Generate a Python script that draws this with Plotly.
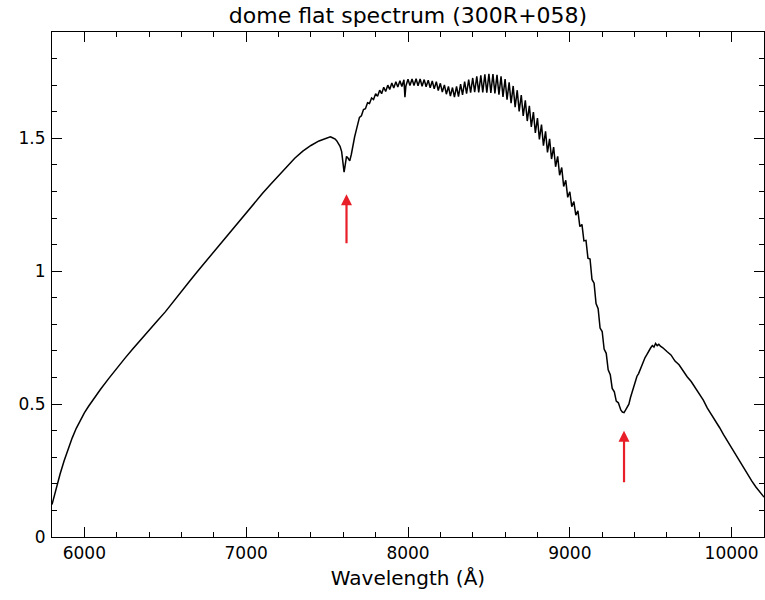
import plotly.graph_objects as go

# ---- data ----
# smooth blue part of the spectrum
wave_blue = [5800, 5825, 5850, 5875, 5900, 5925, 5950, 5975, 6000, 6025, 6050, 6075,
             6100, 6150, 6200, 6250, 6300, 6350, 6400, 6450, 6500, 6550, 6600, 6650,
             6700, 6750, 6800, 6850, 6900, 6950, 7000, 7050, 7100, 7150, 7200, 7250,
             7300, 7350, 7400, 7450]
flux_blue = [0.122, 0.182, 0.237, 0.287, 0.332, 0.373, 0.409, 0.440, 0.467, 0.491,
             0.513, 0.535, 0.556, 0.596, 0.635, 0.672, 0.708, 0.744, 0.779, 0.813,
             0.847, 0.884, 0.923, 0.962, 1.000, 1.037, 1.073, 1.108, 1.144, 1.181,
             1.218, 1.256, 1.292, 1.326, 1.360, 1.393, 1.425, 1.452, 1.473, 1.490]

# atmospheric A-band region
wave_aband = [7500, 7510, 7520, 7530, 7540, 7550, 7560, 7570, 7580, 7590, 7600, 7605,
              7610, 7620, 7630, 7640, 7650, 7660, 7670, 7680, 7690]
flux_aband = [1.502, 1.504, 1.506, 1.503, 1.500, 1.497, 1.490, 1.482, 1.470, 1.450,
              1.400, 1.373, 1.392, 1.432, 1.425, 1.415, 1.440, 1.480, 1.505, 1.530,
              1.553]

# fringing region (peaks and troughs)
wave_fringe = [7700, 7712, 7725, 7737, 7750, 7762, 7775, 7787, 7800, 7812, 7825, 7837,
               7850, 7862, 7875, 7887, 7900, 7912, 7925, 7937, 7950, 7962, 7975, 7981,
               7987, 8000, 8012, 8025, 8037, 8050, 8062, 8075, 8087, 8100, 8112, 8125,
               8137, 8150, 8162, 8175, 8187, 8200, 8212, 8225, 8237, 8250, 8262, 8275,
               8287, 8300, 8312, 8325, 8337, 8350, 8362, 8375, 8387, 8400, 8412, 8425,
               8437, 8450, 8462, 8475, 8487, 8500, 8512, 8525, 8537, 8550, 8562, 8575,
               8587, 8600, 8612, 8625, 8637, 8650, 8662, 8675, 8687, 8700, 8712, 8725,
               8737, 8750, 8762, 8775, 8787, 8800, 8812, 8825, 8837, 8850, 8862, 8875,
               8887, 8900, 8912, 8925, 8937, 8950, 8962, 8975, 8987, 9000, 9012, 9025,
               9037, 9050, 9062, 9075, 9087, 9100, 9112, 9125, 9137, 9150, 9162, 9175,
               9187, 9200, 9212, 9225, 9237, 9250, 9262, 9275, 9287, 9300]
flux_fringe = [1.579, 1.585, 1.608, 1.611, 1.634, 1.631, 1.652, 1.646, 1.668, 1.658,
               1.681, 1.668, 1.692, 1.676, 1.700, 1.684, 1.708, 1.689, 1.713, 1.693,
               1.717, 1.695, 1.720, 1.655, 1.697, 1.722, 1.699, 1.723, 1.699, 1.724,
               1.698, 1.723, 1.696, 1.721, 1.694, 1.719, 1.690, 1.716, 1.686, 1.713,
               1.680, 1.707, 1.674, 1.701, 1.666, 1.695, 1.659, 1.691, 1.655, 1.695,
               1.657, 1.704, 1.663, 1.713, 1.668, 1.721, 1.672, 1.727, 1.674, 1.733,
               1.673, 1.737, 1.673, 1.741, 1.672, 1.743, 1.671, 1.742, 1.669, 1.739,
               1.664, 1.733, 1.656, 1.723, 1.645, 1.711, 1.632, 1.697, 1.617, 1.681,
               1.601, 1.663, 1.584, 1.643, 1.565, 1.622, 1.543, 1.599, 1.520, 1.576,
               1.496, 1.552, 1.472, 1.526, 1.447, 1.498, 1.422, 1.467, 1.393, 1.432,
               1.361, 1.390, 1.319, 1.342, 1.278, 1.299, 1.243, 1.262, 1.211, 1.227,
               1.168, 1.176, 1.114, 1.116, 1.049, 1.046, 0.969, 0.955, 0.878, 0.859,
               0.786, 0.773, 0.707, 0.691, 0.629, 0.611, 0.559, 0.546, 0.511, 0.505]

# red part beyond the water band
wave_red = [9315, 9325, 9335, 9345, 9355, 9365, 9375, 9390, 9400, 9415, 9425, 9440,
            9450, 9465, 9475, 9490, 9500, 9510, 9520, 9530, 9540, 9550, 9560, 9575,
            9590, 9600, 9625, 9650, 9675, 9700, 9725, 9750, 9775, 9800, 9825, 9850,
            9875, 9900, 9925, 9950, 9975, 10000, 10025, 10050, 10075, 10100, 10125,
            10150, 10175, 10200]
flux_red = [0.478, 0.470, 0.468, 0.478, 0.488, 0.500, 0.525, 0.555, 0.575, 0.605,
            0.615, 0.640, 0.652, 0.675, 0.685, 0.705, 0.712, 0.720, 0.715, 0.728,
            0.720, 0.725, 0.718, 0.712, 0.705, 0.698, 0.685, 0.662, 0.648, 0.625,
            0.603, 0.585, 0.562, 0.540, 0.515, 0.485, 0.462, 0.437, 0.412, 0.385,
            0.360, 0.335, 0.305, 0.280, 0.255, 0.232, 0.210, 0.188, 0.168, 0.150]

# red arrows marking telluric features
arrow_wave = [7620, 9335]
arrow_tail = [1.10, 0.20]
arrow_head = [1.29, 0.40]

wave = wave_blue + wave_aband + wave_fringe + wave_red
flux = flux_blue + flux_aband + flux_fringe + flux_red

fig = go.Figure()
fig.add_trace(go.Scatter(x=wave, y=flux, mode="lines",
                         line=dict(color="black", width=1.5), hoverinfo="skip"))

for xw, yt, yh in zip(arrow_wave, arrow_tail, arrow_head):
    fig.add_annotation(x=xw, y=yh, ax=xw, ay=yt, xref="x", yref="y",
                       axref="x", ayref="y", text="", showarrow=True,
                       arrowhead=2, arrowsize=1.0, arrowwidth=2.2,
                       arrowcolor="rgb(232,30,40)")

font = "DejaVu Sans"
axis_common = dict(showline=True, linecolor="black", linewidth=1.2, mirror="ticks",
                   ticks="inside", ticklen=10, tickwidth=1, tickcolor="black",
                   showgrid=False, zeroline=False, automargin=False,
                   tickfont=dict(family=font, size=17, color="black"))

fig.update_xaxes(range=[5800, 10200], dtick=1000, tick0=0, tickformat="d",
                 minor=dict(dtick=200, ticks="inside", ticklen=5, tickcolor="black"),
                 title=dict(text="Wavelength (Å)", font=dict(family=font, size=20, color="black"),
                            standoff=9),
                 **axis_common)
fig.update_yaxes(range=[0, 1.9], dtick=0.5, tick0=0,
                 minor=dict(dtick=0.1, ticks="inside", ticklen=5, tickcolor="black"),
                 ticklabelstandoff=2,
                 **axis_common)

W, H = 765, 600
fig.update_layout(
    width=W, height=H,
    margin=dict(l=52, r=1, t=32, b=63, autoexpand=False),
    paper_bgcolor="white", plot_bgcolor="white",
    showlegend=False,
    title=dict(text="dome flat spectrum (300R+058)", x=408 / W, xanchor="center",
               y=1 - 15 / H, yanchor="middle",
               font=dict(family=font, size=22, color="black")),
)

# remove the default page margin so the figure fills the window exactly
fig.write_html("out.html",
               config={"displayModeBar": False},
               post_script="document.body.style.margin='0';document.body.style.overflow='hidden';")
